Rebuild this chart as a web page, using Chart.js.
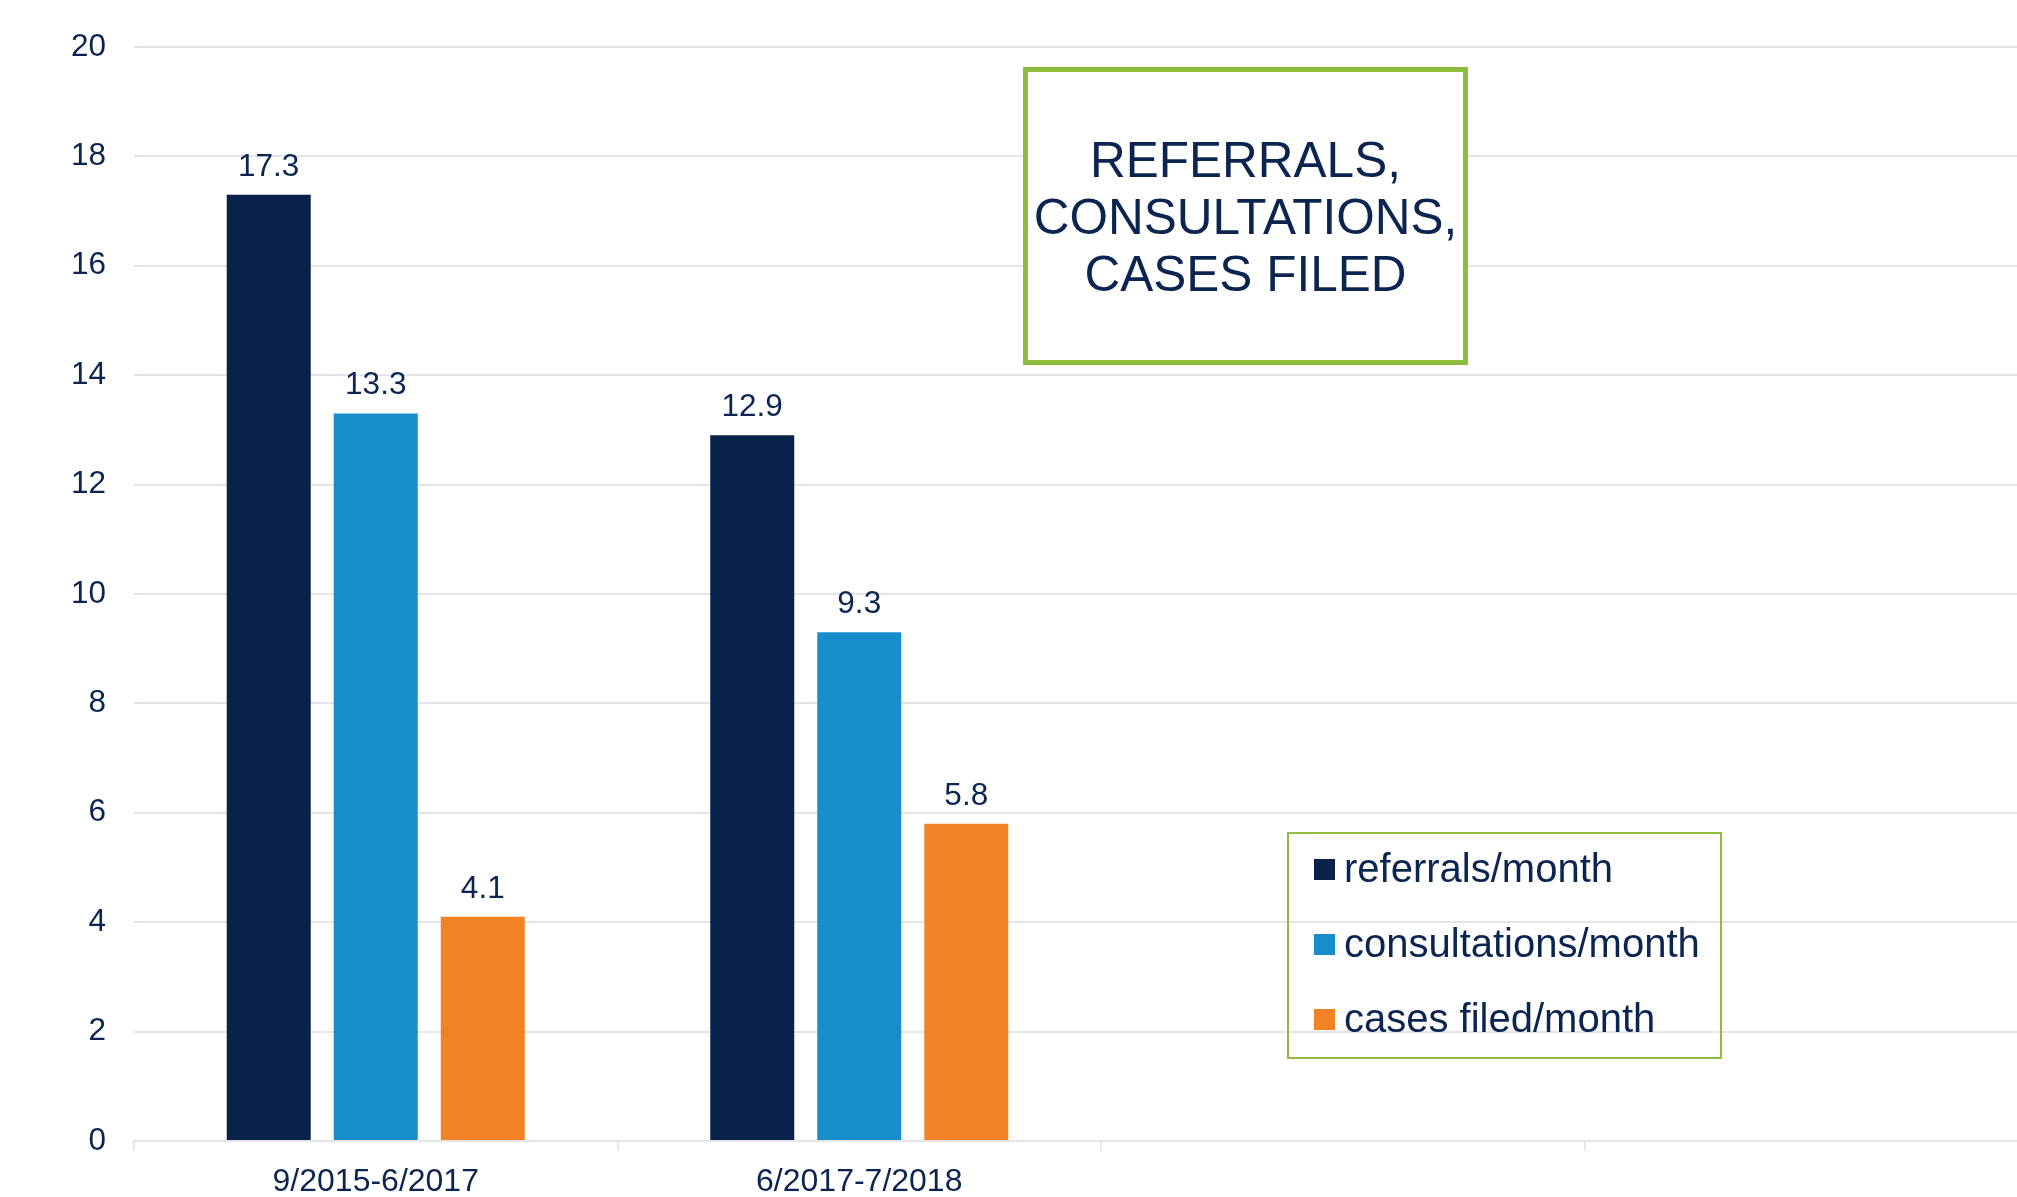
<!DOCTYPE html>
<html lang="en">
<head>
    <meta charset="UTF-8">
    <title>Referrals, consultations, cases filed</title>
    <script src="https://cdn.jsdelivr.net/npm/chart.js@4"></script>
    <style>
        html, body {
            margin: 0;
            padding: 0;
            overflow: hidden;
            background: #fff;
        }
        canvas {
            display: block;
        }
    </style>
</head>
<body>
    <canvas id="chart" width="2068" height="1197"></canvas>
    <script>
        const categories = ["9/2015-6/2017", "6/2017-7/2018", "", ""];
        const seriesNames = ["referrals/month", "consultations/month", "cases filed/month"];
        const referrals = [17.3, 12.9, null, null];
        const consultations = [13.3, 9.3, null, null];
        const casesFiled = [4.1, 5.8, null, null];
        const titleLines = ["REFERRALS,", "CONSULTATIONS,", "CASES FILED"];

        const FONT = "'Liberation Sans', Arial, sans-serif";
        const TEXT = "#0b2550";
        const GREEN = "#8dbd3a";
        const GRID = "#e4e4ea";

        // value labels above each bar
        const barLabels = {
            id: "barLabels",
            afterDatasetsDraw(chart) {
                const ctx = chart.ctx;
                ctx.save();
                ctx.font = "31.5px " + FONT;
                ctx.fillStyle = TEXT;
                ctx.textAlign = "center";
                ctx.textBaseline = "alphabetic";
                chart.data.datasets.forEach((ds, i) => {
                    chart.getDatasetMeta(i).data.forEach((bar, j) => {
                        if (ds.data[j] == null) return;
                        ctx.fillText(ds.data[j].toFixed(1), bar.x, bar.y - 19);
                    });
                });
                ctx.restore();
            }
        };

        // green title box and boxed legend
        const boxes = {
            id: "boxes",
            afterDraw(chart) {
                const ctx = chart.ctx;
                ctx.save();

                ctx.fillStyle = "#fff";
                ctx.fillRect(1023, 67, 445, 298);
                ctx.strokeStyle = GREEN;
                ctx.lineWidth = 5;
                ctx.strokeRect(1025.5, 69.5, 440, 293);
                ctx.fillStyle = TEXT;
                ctx.font = "49.5px " + FONT;
                ctx.textAlign = "center";
                ctx.textBaseline = "alphabetic";
                titleLines.forEach((line, i) => {
                    ctx.fillText(line, 1245.5, 177 + i * 57);
                });

                ctx.lineWidth = 2;
                ctx.strokeRect(1288, 833, 433, 225);
                ctx.font = "40px " + FONT;
                ctx.textAlign = "left";
                chart.data.datasets.forEach((ds, i) => {
                    const y = 882 + i * 75;
                    ctx.fillStyle = ds.backgroundColor;
                    ctx.fillRect(1314, y - 23, 21, 21);
                    ctx.fillStyle = TEXT;
                    ctx.fillText(ds.label, 1344, y);
                });

                ctx.restore();
            }
        };

        new Chart("chart", {
            type: "bar",
            data: {
                labels: categories,
                datasets: [{
                    label: seriesNames[0],
                    data: referrals,
                    backgroundColor: "#082249"
                }, {
                    label: seriesNames[1],
                    data: consultations,
                    backgroundColor: "#188dcb"
                }, {
                    label: seriesNames[2],
                    data: casesFiled,
                    backgroundColor: "#f28325"
                }]
            },
            options: {
                responsive: false,
                animation: false,
                categoryPercentage: 0.664,
                barPercentage: 0.785,
                layout: {
                    padding: { top: 47, right: 0, bottom: 0, left: 0 }
                },
                plugins: {
                    legend: { display: false },
                    title: { display: false },
                    tooltip: { enabled: false }
                },
                scales: {
                    x: {
                        grid: {
                            drawOnChartArea: false,
                            drawTicks: true,
                            tickLength: 10,
                            color: GRID,
                            lineWidth: 2
                        },
                        border: { color: GRID, width: 2 },
                        ticks: {
                            color: TEXT,
                            padding: 12,
                            font: { family: FONT, size: 32 }
                        },
                        afterFit(scale) {
                            scale.height = 56;
                        }
                    },
                    y: {
                        min: 0,
                        max: 20,
                        grid: {
                            drawTicks: false,
                            color: GRID,
                            lineWidth: 2
                        },
                        border: { display: false },
                        ticks: {
                            stepSize: 2,
                            color: TEXT,
                            padding: 28,
                            font: { family: FONT, size: 31.5 }
                        },
                        afterFit(scale) {
                            scale.width = 134;
                        }
                    }
                }
            },
            plugins: [barLabels, boxes]
        });
    </script>
</body>
</html>
